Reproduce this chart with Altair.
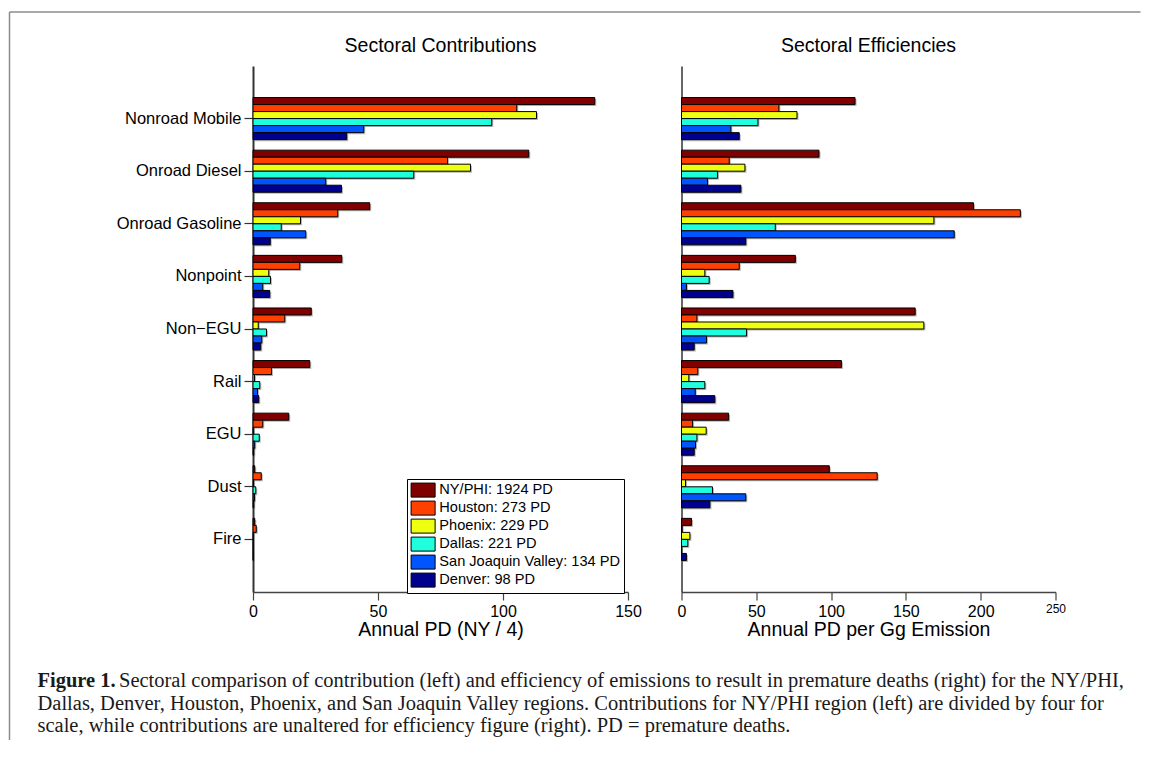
import altair as alt
import pandas as pd

sectors = ["Nonroad Mobile", "Onroad Diesel", "Onroad Gasoline", "Nonpoint",
           "Non\u2212EGU", "Rail", "EGU", "Dust", "Fire"]
cities = ["NY/PHI: 1924 PD", "Houston: 273 PD", "Phoenix: 229 PD",
          "Dallas: 221 PD", "San Joaquin Valley: 134 PD", "Denver: 98 PD"]
colors = ["#800000", "#FF4000", "#EEFF10", "#20FFDD", "#0055FF", "#00008F"]

# Annual PD contributions (NY/PHI divided by 4)
contrib_ny = [136.7, 110.3, 46.7, 35.5, 23.3, 22.7, 14.3, 0.7, 0.7]
contrib_houston = [105.5, 77.8, 33.9, 18.7, 12.7, 7.4, 3.9, 3.3, 1.3]
contrib_phoenix = [113.4, 87.0, 19.0, 6.3, 2.1, 0.6, 0.1, 0.2, 0.1]
contrib_dallas = [95.5, 64.3, 11.3, 7.0, 5.4, 2.7, 2.5, 1.1, 0.1]
contrib_sjv = [44.3, 29.1, 21.1, 3.9, 3.5, 1.8, 0.7, 0.6, 0.1]
contrib_denver = [37.5, 35.4, 6.9, 6.7, 3.1, 2.3, 0.3, 0.3, 0.1]

# Annual PD per Gg emission
eff_ny = [116.0, 91.9, 195.2, 76.1, 156.2, 106.9, 31.5, 98.8, 6.7]
eff_houston = [65.1, 31.9, 226.5, 38.6, 10.3, 10.9, 7.4, 130.8, 0.4]
eff_phoenix = [77.2, 42.4, 168.7, 15.6, 162.0, 4.9, 16.5, 2.7, 5.6]
eff_dallas = [51.1, 24.1, 62.7, 18.5, 43.5, 15.6, 10.3, 20.7, 4.2]
eff_sjv = [33.0, 17.4, 182.3, 3.3, 16.7, 9.2, 9.4, 43.0, 0.0]
eff_denver = [38.6, 39.7, 43.0, 34.4, 8.5, 22.3, 8.5, 19.0, 3.3]

panel_titles = ["Sectoral Contributions", "Sectoral Efficiencies"]
caption_bold = "Figure 1."
caption_l1 = ("Sectoral comparison of contribution (left) and efficiency of emissions to result "
              "in premature deaths (right) for the NY/PHI,")
caption_l2 = ("Dallas, Denver, Houston, Phoenix, and San Joaquin Valley regions. Contributions for "
              "NY/PHI region (left) are divided by four for")
caption_l3 = ("scale, while contributions are unaltered for efficiency figure (right). "
              "PD = premature deaths.")

contrib = [contrib_ny, contrib_houston, contrib_phoenix, contrib_dallas, contrib_sjv, contrib_denver]
eff = [eff_ny, eff_houston, eff_phoenix, eff_dallas, eff_sjv, eff_denver]

rows = []
for ci, city in enumerate(cities):
    for si, sec in enumerate(sectors):
        rows.append({"sector": sec, "city": city,
                     "contrib": contrib[ci][si], "eff": eff[ci][si]})
df = pd.DataFrame(rows)
one = pd.DataFrame({"k": [0]})

SANS = "Liberation Sans"
SERIF = "Liberation Serif"
W_L, W_R, H = 375, 374, 526
BANDW = H / 10 * 0.8  # inner band width of one sector group


def bars(field, xtitle, dom, ticks, show_labels, legend, xlabel_size):
    if show_labels:
        yaxis = alt.Axis(title=None, labelFontSize=16.5, labelFont=SANS, labelColor="black",
                         tickSize=9, labelPadding=3, tickColor="#333", tickWidth=1.2,
                         domainColor="#333", domainWidth=2)
    else:
        yaxis = alt.Axis(title=None, labels=False, ticks=False,
                         domainColor="#333", domainWidth=1.5)
    y = alt.Y("sector:N", sort=sectors,
              scale=alt.Scale(paddingInner=0.2, paddingOuter=0.6), axis=yaxis)
    x = alt.X(f"{field}:Q", scale=alt.Scale(domain=dom, nice=False),
              axis=alt.Axis(values=ticks, title=xtitle, grid=False, tickSize=8,
                            labelFlush=False, labelFont=SANS, labelFontSize=xlabel_size,
                            labelColor="black", labelPadding=3,
                            titleFont=SANS, titleFontSize=19.5, titleFontWeight="normal",
                            titleColor="black", titlePadding=1,
                            domainColor="#444", domainWidth=1.5, tickColor="#444",
                            tickWidth=1.2))
    shadow = alt.Chart(df).mark_bar(color="#7a7a7a", opacity=0.55, xOffset=1.5).encode(
        y=y, x=x,
        yOffset=alt.YOffset("city:N", sort=cities,
                            scale=alt.Scale(domain=cities, range=[1.5, BANDW + 1.5],
                                            paddingInner=0, paddingOuter=0)),
    )
    main = alt.Chart(df).mark_bar(stroke="black", strokeWidth=1).encode(
        y=y, x=x,
        yOffset=alt.YOffset("city:N", sort=cities,
                            scale=alt.Scale(paddingInner=0, paddingOuter=0)),
        color=alt.Color("city:N", sort=cities,
                        scale=alt.Scale(domain=cities, range=colors), legend=legend),
    )
    return shadow, main


legend = alt.Legend(title=None, orient="none", legendX=154, legendY=413,
                    symbolType="M-1,-1L2.43,-1L2.43,1L-1,1Z", symbolSize=196,
                    symbolStrokeColor="black", symbolStrokeWidth=1, symbolOpacity=1,
                    labelFont=SANS, labelFontSize=14.6, labelColor="black",
                    labelOffset=13.7, labelLimit=400, rowPadding=-1,
                    strokeColor="black", fillColor="white", padding=3.6, cornerRadius=0)

left_sh, left_bars = bars("contrib", "Annual PD (NY / 4)", [0, 150], [0, 50, 100, 150],
                          True, legend, 16)
right_sh, right_bars = bars("eff", "Annual PD per Gg Emission", [0, 250],
                            [0, 50, 100, 150, 200, 250], False, None,
                            {"condition": {"test": "datum.value == 250", "value": 12},
                             "value": 16})


def title_text(txt, w):
    return alt.Chart(one).mark_text(text=txt, font=SANS, fontSize=19.5, color="black",
                                    align="center", baseline="middle").encode(
        x=alt.value(w / 2), y=alt.value(-20))


frame_top = alt.Chart(one).mark_rule(color="#8c8c8c", strokeWidth=1.5).encode(
    x=alt.value(-243.5), x2=alt.value(887.5), y=alt.value(-54))
frame_left = alt.Chart(one).mark_rule(color="#8c8c8c", strokeWidth=1.5).encode(
    x=alt.value(-243.5), y=alt.value(-54), y2=alt.value(674))

CAP_FS = 20.5
cap_kw = dict(font=SERIF, fontSize=CAP_FS, align="left", baseline="alphabetic", color="#1a1a1a")
cap_b = alt.Chart(one).mark_text(text=caption_bold, fontWeight="bold", **cap_kw).encode(
    x=alt.value(-215.5), y=alt.value(621))
cap1 = alt.Chart(one).mark_text(text=caption_l1, **cap_kw).encode(
    x=alt.value(-134), y=alt.value(621))
cap2 = alt.Chart(one).mark_text(text=caption_l2, **cap_kw).encode(
    x=alt.value(-215.5), y=alt.value(644))
cap3 = alt.Chart(one).mark_text(text=caption_l3, **cap_kw).encode(
    x=alt.value(-215.5), y=alt.value(666))

left = alt.layer(left_sh, left_bars, title_text(panel_titles[0], W_L), frame_top, frame_left,
                 cap_b, cap1, cap2, cap3).resolve_scale(yOffset="independent").properties(
    width=W_L, height=H)
right = alt.layer(right_sh, right_bars, title_text(panel_titles[1], W_R)).resolve_scale(
    yOffset="independent").properties(width=W_R, height=H)

chart = alt.hconcat(left, right, spacing=53.5, bounds="flush").resolve_scale(
    color="independent").properties(
    padding={"left": 0, "top": 3, "right": 0, "bottom": 0}, background="white"
).configure_view(strokeWidth=0, stroke=None)

chart.save("out.html", embed_options={"renderer": "svg", "actions": False})
